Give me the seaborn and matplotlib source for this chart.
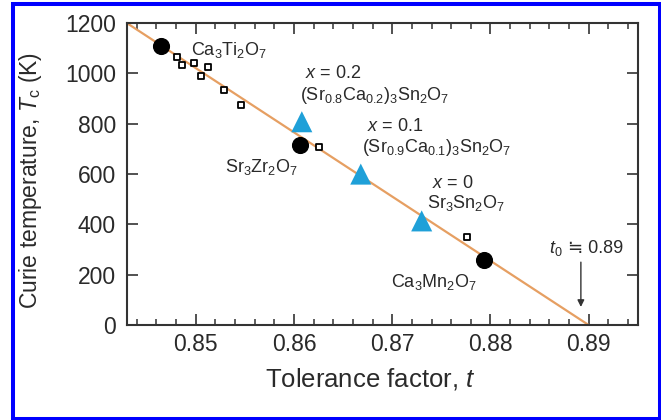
import numpy as np
import pandas as pd
import seaborn as sns
import matplotlib.pyplot as plt
from matplotlib.patches import Rectangle
from matplotlib.ticker import MultipleLocator

# Values
circle_t = [0.8465, 0.8606, 0.8793]          # Ca3Ti2O7, Sr3Zr2O7, Ca3Mn2O7
circle_tc = [1108, 715, 258]

tri_t = [0.8608, 0.8668, 0.8730]             # x = 0.2, 0.1, 0
tri_tc = [808, 600, 414]

square_t = [0.8481, 0.8486, 0.8498, 0.8505, 0.8513, 0.8529, 0.8546, 0.8625, 0.8776]
square_tc = [1066, 1033, 1042, 989, 1024, 934, 873, 706, 351]

fit_t = [0.843, 0.890]
fit_tc = [1200, 0]

x_ticks = [0.85, 0.86, 0.87, 0.88, 0.89]
y_ticks = [0, 200, 400, 600, 800, 1000, 1200]

# Style
sns.set_style('ticks')
plt.rcParams['font.family'] = ['Liberation Sans', 'DejaVu Sans']
plt.rcParams['mathtext.fontset'] = 'custom'
plt.rcParams['mathtext.rm'] = 'Liberation Sans'
plt.rcParams['mathtext.it'] = 'Liberation Sans:italic'
plt.rcParams['mathtext.bf'] = 'Liberation Sans:bold'

txt_color = '#2a2a2a'
line_color = '#E69F62'
tri_color = '#1FA0D8'

fig = plt.figure(figsize=(6.61, 4.20), dpi=100)
ax = fig.add_axes([0.192, 0.226, 0.773, 0.719])

fit = pd.DataFrame({'t': fit_t, 'Tc': fit_tc})
sns.lineplot(data=fit, x='t', y='Tc', color=line_color, linewidth=1.6, ax=ax, sort=False)

sq = pd.DataFrame({'t': square_t, 'Tc': square_tc})
sns.scatterplot(data=sq, x='t', y='Tc', marker='s', s=24, facecolor='white',
                edgecolor='black', linewidth=1.3, ax=ax, zorder=3)

ci = pd.DataFrame({'t': circle_t, 'Tc': circle_tc})
sns.scatterplot(data=ci, x='t', y='Tc', marker='o', s=130, color='black',
                edgecolor='black', ax=ax, zorder=4)

tr = pd.DataFrame({'t': tri_t, 'Tc': tri_tc})
sns.scatterplot(data=tr, x='t', y='Tc', marker='^', s=230, color=tri_color,
                edgecolor='none', ax=ax, zorder=4)

ax.set_xlim(0.843, 0.895)
ax.set_ylim(0, 1200)
ax.set_xticks(x_ticks)
ax.set_xticklabels(['%.2f' % v for v in x_ticks])
ax.set_yticks(y_ticks)
ax.xaxis.set_minor_locator(MultipleLocator(0.002))

ax.tick_params(which='both', direction='in', top=True, right=True, color='#333333')
ax.tick_params(which='major', length=8, width=1.2, labelsize=16.5, labelcolor=txt_color)
ax.tick_params(which='minor', length=4, width=1.1)
ax.tick_params(axis='y', pad=8)
ax.tick_params(axis='x', pad=6)
for sp in ax.spines.values():
    sp.set_linewidth(1.5)
    sp.set_color('#333333')

ax.set_xlabel('Tolerance factor, $t$', fontsize=18.5, color=txt_color)
ax.set_ylabel('Curie temperature, $T_\\mathrm{c}$ (K)', fontsize=16.5, color=txt_color)
ax.xaxis.set_label_coords(0.476, -0.135)
ax.yaxis.set_label_coords(-0.162, 0.48)

# Compound labels
fs = 13
ax.text(0.8495, 1093, 'Ca$_3$Ti$_2$O$_7$', fontsize=fs, color=txt_color, va='center')
ax.text(0.86117, 1001, '$x$ = 0.2', fontsize=fs, color=txt_color, va='center')
ax.text(0.86063, 914, '(Sr$_{0.8}$Ca$_{0.2}$)$_3$Sn$_2$O$_7$', fontsize=fs, color=txt_color, va='center')
ax.text(0.86747, 791, '$x$ = 0.1', fontsize=fs, color=txt_color, va='center')
ax.text(0.86693, 707, '(Sr$_{0.9}$Ca$_{0.1}$)$_3$Sn$_2$O$_7$', fontsize=fs, color=txt_color, va='center')
ax.text(0.85295, 628, 'Sr$_3$Zr$_2$O$_7$', fontsize=fs, color=txt_color, va='center')
ax.text(0.87407, 564, '$x$ = 0', fontsize=fs, color=txt_color, va='center')
ax.text(0.87356, 485, 'Sr$_3$Sn$_2$O$_7$', fontsize=fs, color=txt_color, va='center')
ax.text(0.86987, 172, 'Ca$_3$Mn$_2$O$_7$', fontsize=fs, color=txt_color, va='center')
ax.text(0.88600, 306, '$t_0$', fontsize=fs, color=txt_color, va='center')
ax.text(0.88790, 306, '\u2252 0.89', fontsize=fs, color=txt_color, va='center',
        family=['Liberation Sans', 'DejaVu Sans'])
ax.annotate('', xy=(0.8892, 72), xytext=(0.8892, 250),
            arrowprops=dict(arrowstyle='-|>', color='#333333', lw=1.0,
                            mutation_scale=10, shrinkA=0, shrinkB=0))

# Blue frame around the whole figure
fig.patches.append(Rectangle((13 / 661, 1.5 / 420), 646.5 / 661, 414.5 / 420,
                             transform=fig.transFigure, fill=False,
                             edgecolor='#0000FF', linewidth=2.9))

fig.savefig('out.png', dpi=100)
